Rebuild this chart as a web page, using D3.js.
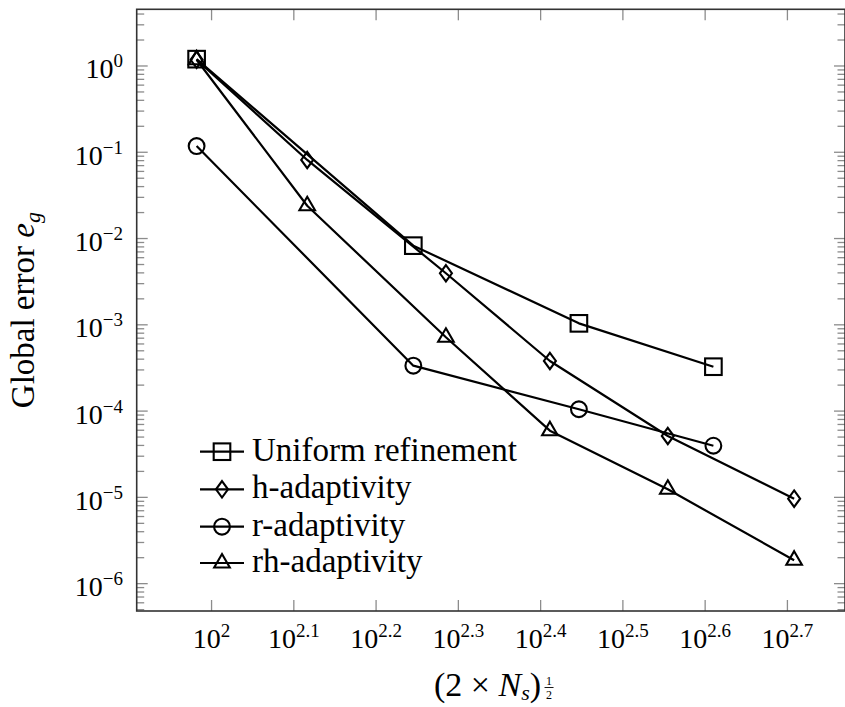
<!DOCTYPE html>
<html><head><meta charset="utf-8">
<script src="https://cdn.jsdelivr.net/npm/d3@7"></script>
<style>
html,body{margin:0;padding:0;background:#fff;}
svg text{font-family:"Liberation Serif","Times New Roman",serif;fill:#000;}
</style></head>
<body>
<svg id="chart" width="845" height="707"></svg>
<script>
// ---- data ----
const seriesNames = ["Uniform refinement", "h-adaptivity", "r-adaptivity", "rh-adaptivity"];
const markerTypes = ["square", "diamond", "circle", "triangle"];
const uniformX = [95.9, 175.9, 279.6, 407.4];
const uniformY = [1.2, 8.27e-3, 1.04e-3, 3.27e-4];
const hX = [95.9, 130.7, 192.7, 257.8, 358.6, 510.7];
const hY = [1.18, 0.0814, 3.96e-3, 3.81e-4, 5.15e-5, 9.66e-6];
const rX = [95.9, 175.9, 279.6, 407.4];
const rY = [0.118, 3.36e-4, 1.05e-4, 3.97e-5];
const rhX = [95.9, 130.7, 192.7, 257.8, 358.6, 510.7];
const rhY = [1.18, 0.024, 7.17e-4, 5.93e-5, 1.24e-5, 1.87e-6];
const xTickExps = ["2", "2.1", "2.2", "2.3", "2.4", "2.5", "2.6", "2.7"];
const yTickExps = ["0", "−1", "−2", "−3", "−4", "−5", "−6"];

const seriesX = [uniformX, hX, rX, rhX];
const seriesY = [uniformY, hY, rY, rhY];

const FONT = "Liberation Serif, Times New Roman, serif";

// ---- layout ----
const L = 136.7, R = 845, T = 9.3, B = 611;
const svg = d3.select("#chart");
const x = d3.scaleLog().domain([Math.pow(10, 1.909), Math.pow(10, 2.770)]).range([L, R]);
const y = d3.scaleLog().domain([Math.pow(10, -6.317), Math.pow(10, 0.657)]).range([B, T]);

const tickColor = "#8c8c8c";
const g = svg.append("g");

// y ticks (major + minor), left and right
const yExpVals = yTickExps.map(s => parseFloat(s.replace("−", "-")));
for (let k = -7; k <= 0; k++) {
  for (let m = 1; m <= 9; m++) {
    const v = m * Math.pow(10, k);
    const yy = y(v);
    if (yy < T || yy > B) continue;
    const len = (m === 1) ? 11 : 7.5;
    g.append("line").attr("x1", L).attr("x2", L + len).attr("y1", yy).attr("y2", yy)
      .attr("stroke", tickColor).attr("stroke-width", 1.3);
    g.append("line").attr("x1", R).attr("x2", R - len).attr("y1", yy).attr("y2", yy)
      .attr("stroke", tickColor).attr("stroke-width", 1.3);
  }
}
// x ticks, bottom and top
xTickExps.forEach(e => {
  const xx = x(Math.pow(10, parseFloat(e)));
  g.append("line").attr("x1", xx).attr("x2", xx).attr("y1", B).attr("y2", B - 11)
    .attr("stroke", tickColor).attr("stroke-width", 1.3);
  g.append("line").attr("x1", xx).attr("x2", xx).attr("y1", T).attr("y2", T + 11)
    .attr("stroke", tickColor).attr("stroke-width", 1.3);
});

// frame
g.append("rect").attr("x", L).attr("y", T).attr("width", R - L).attr("height", B - T)
  .attr("fill", "none").attr("stroke", "#333").attr("stroke-width", 1.6);

// tick labels
xTickExps.forEach(e => {
  const xx = x(Math.pow(10, parseFloat(e)));
  const t = svg.append("text").attr("x", xx).attr("y", 648).attr("text-anchor", "middle")
    .attr("font-family", FONT).attr("font-size", 28);
  t.append("tspan").text("10");
  t.append("tspan").attr("dy", -11).attr("font-size", 19).text(e);
});
yTickExps.forEach((e, i) => {
  const yy = y(Math.pow(10, yExpVals[i]));
  const t = svg.append("text").attr("x", 123).attr("y", yy + 12.5).attr("text-anchor", "end")
    .attr("font-family", FONT).attr("font-size", 28);
  t.append("tspan").text("10");
  t.append("tspan").attr("dy", -11).attr("font-size", 19).text(e);
});

// axis titles
const yt = svg.append("text").attr("transform", "translate(34," + ((T + B) / 2) + ") rotate(-90)")
  .attr("text-anchor", "middle").attr("font-family", FONT).attr("font-size", 33);
yt.append("tspan").text("Global error ");
yt.append("tspan").attr("font-style", "italic").text("e");
yt.append("tspan").attr("font-style", "italic").attr("font-size", 22).attr("dy", 6).text("g");

const xtG = svg.append("g");
const xt = xtG.append("text").attr("x", 0).attr("y", 696).attr("font-family", FONT).attr("font-size", 34);
xt.append("tspan").text("(2 × ");
xt.append("tspan").attr("font-style", "italic").text("N");
xt.append("tspan").attr("font-style", "italic").attr("font-size", 22).attr("dy", 4).text("s");
xt.append("tspan").attr("dy", -4).text(")");
const w = xt.node().getComputedTextLength();
const fx = w + 8;
xtG.append("text").attr("x", fx).attr("y", 684.5).attr("text-anchor", "middle")
  .attr("font-family", FONT).attr("font-size", 12).text("1");
xtG.append("line").attr("x1", fx - 4.5).attr("x2", fx + 4.5).attr("y1", 687.5).attr("y2", 687.5)
  .attr("stroke", "#000").attr("stroke-width", 0.9);
xtG.append("text").attr("x", fx).attr("y", 698.5).attr("text-anchor", "middle")
  .attr("font-family", FONT).attr("font-size", 12).text("2");
const totalW = fx + 5;
xtG.attr("transform", "translate(" + (494 - totalW / 2) + ",0)");

// markers
function drawMarker(sel, type, cx, cy) {
  const sw = 2.1;
  if (type === "square") {
    sel.append("rect").attr("x", cx - 8.3).attr("y", cy - 8.3).attr("width", 16.6).attr("height", 16.6)
      .attr("fill", "none").attr("stroke", "#000").attr("stroke-width", sw);
  } else if (type === "circle") {
    sel.append("circle").attr("cx", cx).attr("cy", cy).attr("r", 7.9)
      .attr("fill", "none").attr("stroke", "#000").attr("stroke-width", sw);
  } else if (type === "diamond") {
    const pts = [[cx, cy - 8.2], [cx + 6, cy], [cx, cy + 8.2], [cx - 6, cy]];
    sel.append("polygon").attr("points", pts.map(p => p.join(",")).join(" "))
      .attr("fill", "none").attr("stroke", "#000").attr("stroke-width", sw);
  } else if (type === "triangle") {
    const r = 9;
    const pts = [[cx, cy - r], [cx + r * 0.866, cy + r / 2], [cx - r * 0.866, cy + r / 2]];
    sel.append("polygon").attr("points", pts.map(p => p.join(",")).join(" "))
      .attr("fill", "none").attr("stroke", "#000").attr("stroke-width", sw).attr("stroke-linejoin", "miter");
  }
}

const line = d3.line().x(d => x(d[0])).y(d => y(d[1]));
seriesNames.forEach((name, i) => {
  const pts = seriesX[i].map((v, j) => [v, seriesY[i][j]]);
  const sg = svg.append("g");
  sg.append("path").attr("d", line(pts)).attr("fill", "none").attr("stroke", "#000")
    .attr("stroke-width", 2.2).attr("stroke-linejoin", "round");
  pts.forEach(p => drawMarker(sg, markerTypes[i], x(p[0]), y(p[1])));
});

// legend
const legRows = [451.7, 489.3, 526.7, 563];
seriesNames.forEach((name, i) => {
  const ly = legRows[i];
  const lg = svg.append("g");
  lg.append("line").attr("x1", 200).attr("x2", 244).attr("y1", ly).attr("y2", ly)
    .attr("stroke", "#000").attr("stroke-width", 2.2);
  drawMarker(lg, markerTypes[i], 222, ly);
  lg.append("text").attr("x", 252).attr("y", ly + 9).attr("font-family", FONT)
    .attr("font-size", 33).text(name);
});
</script>
</body></html>
